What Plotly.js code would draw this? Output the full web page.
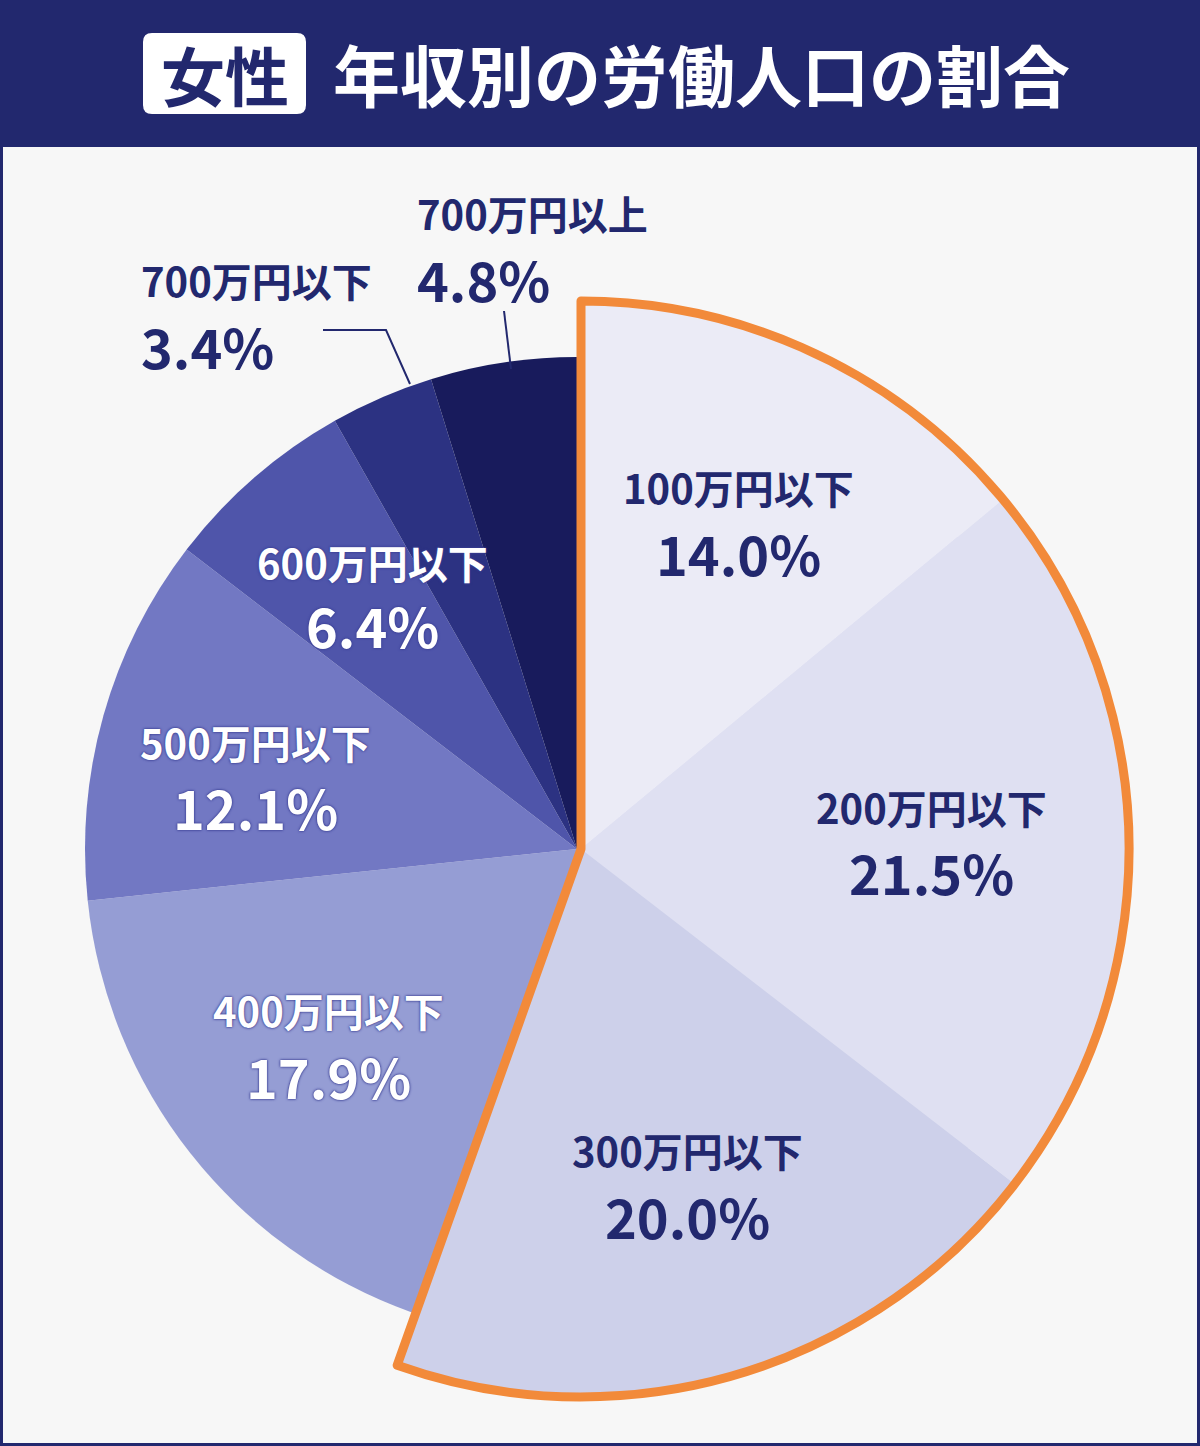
<!DOCTYPE html>
<html><head><meta charset="utf-8">
<script src="https://cdn.plot.ly/plotly-3.0.1.min.js"></script>
<style>html,body{margin:0;padding:0;background:#f7f7f7;}#chart{width:1200px;height:1446px;}</style>
</head><body><div id="chart"></div>
<script>
// ---- data ----
const categories = ['100万円以下','200万円以下','300万円以下','400万円以下','500万円以下','600万円以下','700万円以下','700万円以上'];
const shares = [14.0, 21.5, 20.0, 17.9, 12.1, 6.4, 3.4, 4.8];
const highlightedCount = 3;
const titleBadge = '女性';
const titleText = '年収別の労働人口の割合';

// ---- style ----
const W = 1200, H = 1446;
const NAVY = '#22286e';
const ORANGE = '#f28a3a';
const sliceColors = ['#ebebf6','#dfe0f2','#cdd0ea','#959dd4','#7278c3','#4f55aa','#2c3282','#181b5c'];
const labelColors = [NAVY, NAVY, NAVY, '#ffffff', '#ffffff', '#ffffff', NAVY, NAVY];
// label layout (pixel centres / anchors)
const labelPos = [
  {x:738, y1:487, y2:552, anchor:'center'},
  {x:931, y1:807, y2:871, anchor:'center'},
  {x:687, y1:1150, y2:1215, anchor:'center'},
  {x:328, y1:1010, y2:1075, anchor:'center'},
  {x:255, y1:742, y2:806, anchor:'center'},
  {x:372, y1:562, y2:624, anchor:'center'},
  {x:139, y1:280, y2:345, anchor:'left'},
  {x:415, y1:213, y2:278, anchor:'left'}
];
const FONT = "'Noto Sans CJK JP', 'Noto Sans', sans-serif";

const px = x => x / W;
const py = y => 1 - y / H;
function dom(cx, cy, r) {
  return {x: [(cx - r) / W, (cx + r) / W], y: [1 - (cy + r) / H, 1 - (cy - r) / H]};
}

const cx = 577, cy = 849, rSmall = 492, rBig = 548, bigShift = 4;

const common = {type:'pie', sort:false, direction:'clockwise', rotation:0,
  textinfo:'none', hoverinfo:'none', showlegend:false, hole:0};

const pieSmall = Object.assign({}, common, {
  labels: categories, values: shares,
  marker: {colors: sliceColors, line: {width: 0}},
  domain: dom(cx, cy, rSmall)
});
const bigColors = sliceColors.map((c, i) => i < highlightedCount ? c : 'rgba(0,0,0,0)');
const pieBig = Object.assign({}, common, {
  labels: categories, values: shares,
  marker: {colors: bigColors, line: {width: 0}},
  domain: dom(cx + bigShift, cy, rBig)
});
const hiSum = shares.slice(0, highlightedCount).reduce((a, b) => a + b, 0);
const restSum = shares.slice(highlightedCount).reduce((a, b) => a + b, 0);
const pieOutline = Object.assign({}, common, {
  labels: ['highlight', 'rest'], values: [hiSum, restSum],
  marker: {colors: ['rgba(0,0,0,0)', 'rgba(0,0,0,0)'],
           line: {color: [ORANGE, 'rgba(0,0,0,0)'], width: [9, 0]}},
  domain: dom(cx + bigShift, cy, rBig)
});

// ---- annotations ----
const annotations = [];
categories.forEach((c, i) => {
  const p = labelPos[i];
  const white = labelColors[i] === '#ffffff';
  const f = (size) => ({family: FONT, size: size, color: labelColors[i], weight: 700,
    shadow: white ? '0 0 3px #3a3f94, 0 0 2px #3a3f94' : 'none'});
  annotations.push({xref:'paper', yref:'paper', x: px(p.x), y: py(p.y1), text: c,
    showarrow:false, xanchor: p.anchor, yanchor:'middle', font: f(40)});
  annotations.push({xref:'paper', yref:'paper', x: px(p.x), y: py(p.y2), text: shares[i].toFixed(1) + '%',
    showarrow:false, xanchor: p.anchor, yanchor:'middle', font: f(54)});
});
annotations.push({xref:'paper', yref:'paper', x: px(225), y: py(73), text: titleBadge,
  showarrow:false, xanchor:'center', yanchor:'middle',
  font:{family: FONT, size: 64, color: NAVY, weight: 700}});
annotations.push({xref:'paper', yref:'paper', x: px(331), y: py(72), text: titleText,
  showarrow:false, xanchor:'left', yanchor:'middle',
  font:{family: FONT, size: 67, color: '#ffffff', weight: 700}});

// rounded badge path
function roundRect(x0, y0, x1, y1, r) {
  const P = (x, y) => px(x) + ',' + py(y);
  return 'M' + P(x0 + r, y0) + ' L' + P(x1 - r, y0) + ' Q' + P(x1, y0) + ' ' + P(x1, y0 + r) +
    ' L' + P(x1, y1 - r) + ' Q' + P(x1, y1) + ' ' + P(x1 - r, y1) +
    ' L' + P(x0 + r, y1) + ' Q' + P(x0, y1) + ' ' + P(x0, y1 - r) +
    ' L' + P(x0, y0 + r) + ' Q' + P(x0, y0) + ' ' + P(x0 + r, y0) + ' Z';
}
function linePath(pts) {
  return pts.map((p, i) => (i ? 'L' : 'M') + px(p[0]) + ',' + py(p[1])).join(' ');
}

const shapes = [
  {type:'rect', xref:'paper', yref:'paper', x0:0, x1:1, y0:0, y1:1, layer:'below',
   fillcolor:'#f7f7f7', line:{color: NAVY, width: 6}},
  {type:'rect', xref:'paper', yref:'paper', x0:0, x1:1, y0:py(147), y1:1, layer:'below',
   fillcolor: NAVY, line:{width:0}},
  {type:'path', xref:'paper', yref:'paper', path: roundRect(143, 33, 306, 114, 9), layer:'below',
   fillcolor:'#ffffff', line:{width:0}},
  {type:'path', xref:'paper', yref:'paper', path: linePath([[323,330],[386,330],[410,384]]),
   line:{color: NAVY, width: 2}},
  {type:'path', xref:'paper', yref:'paper', path: linePath([[504,311],[511,369]]),
   line:{color: NAVY, width: 2}}
];

const layout = {
  width: W, height: H, margin:{l:0, r:0, t:0, b:0},
  paper_bgcolor:'#f7f7f7', plot_bgcolor:'#f7f7f7',
  showlegend:false, annotations: annotations, shapes: shapes,
  font:{family: FONT}
};

Plotly.newPlot('chart', [pieSmall, pieBig, pieOutline], layout, {displayModeBar:false, staticPlot:true});
</script>
</body></html>
